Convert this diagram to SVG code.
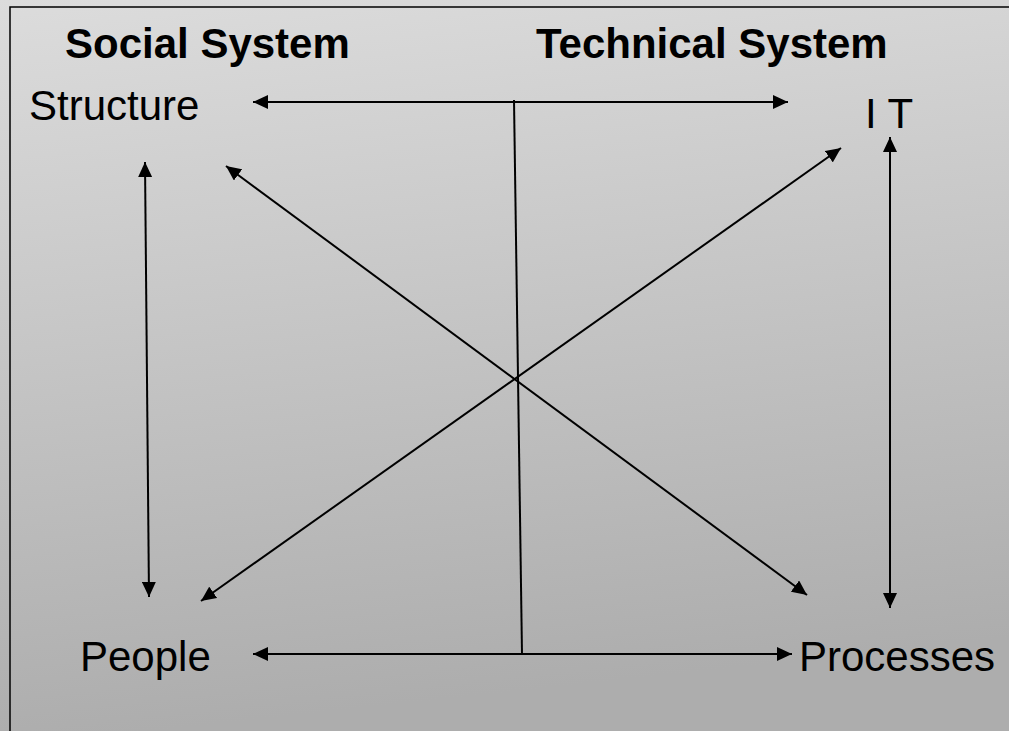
<svg xmlns="http://www.w3.org/2000/svg" width="1009" height="731" viewBox="0 0 1009 731">
  <defs>
    <linearGradient id="bg" x1="0" y1="0" x2="0.15" y2="1">
      <stop offset="0" stop-color="#dcdcdc"/>
      <stop offset="1" stop-color="#adadad"/>
    </linearGradient>
    <marker id="ah" markerUnits="userSpaceOnUse" markerWidth="16" markerHeight="14" refX="15" refY="7" orient="auto-start-reverse" viewBox="0 0 16 14">
      <path d="M0,0 L15,7 L0,14 z" fill="#000"/>
    </marker>
    <style>
      .lbl { font-family: "Liberation Sans", Arial, sans-serif; font-size: 42px; fill: #000; }
      .hdr { font-weight: bold; }
      .arr { stroke: #000; stroke-width: 2; fill: none; marker-start: url(#ah); marker-end: url(#ah); }
      .ln { stroke: #000; stroke-width: 2; fill: none; }
    </style>
  </defs>
  <rect x="0" y="0" width="1009" height="731" fill="url(#bg)"/>
  <rect x="10" y="7" width="1010" height="740" fill="none" stroke="#000" stroke-width="1.5"/>

  <g id="headers">
    <text class="lbl hdr" x="65" y="58">Social System</text>
    <text class="lbl hdr" x="536" y="58">Technical System</text>
  </g>
  <g id="node-structure"><text class="lbl" x="29" y="120">Structure</text></g>
  <g id="node-it"><text class="lbl" x="865" y="128">I T</text></g>
  <g id="node-people"><text class="lbl" x="80" y="671">People</text></g>
  <g id="node-processes"><text class="lbl" x="799" y="671">Processes</text></g>

  <g id="connectors">
    <line class="arr" x1="253" y1="102" x2="788" y2="102"/>
    <line class="arr" x1="253" y1="654" x2="792" y2="654"/>
    <line class="arr" x1="145" y1="162" x2="149" y2="597"/>
    <line class="arr" x1="890" y1="137" x2="890" y2="608"/>
    <line class="arr" x1="226" y1="166" x2="807" y2="595"/>
    <line class="arr" x1="201" y1="601" x2="841" y2="148"/>
    <line class="ln" x1="514" y1="100" x2="522" y2="654"/>
  </g>
</svg>
